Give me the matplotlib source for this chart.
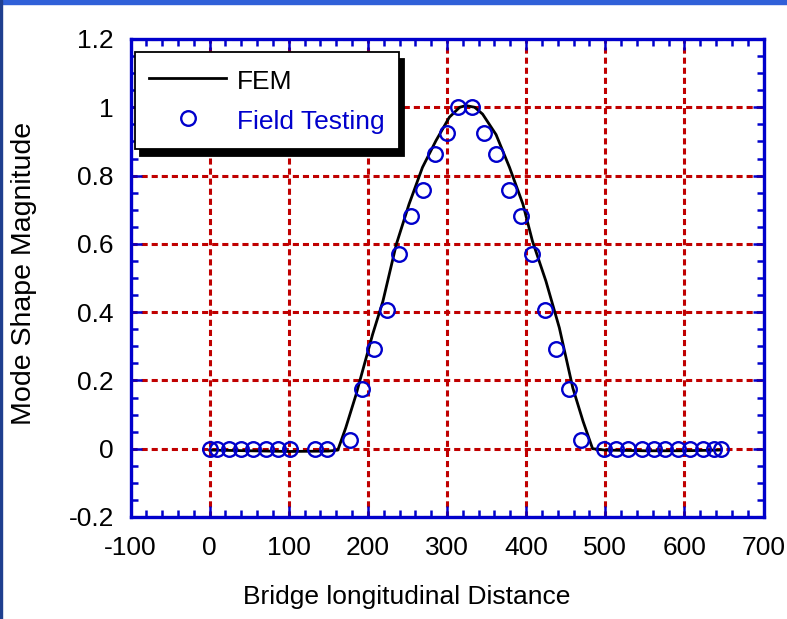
import numpy as np
import matplotlib.pyplot as plt
from matplotlib.patches import Rectangle
from matplotlib.ticker import MultipleLocator

plt.rcParams['font.family'] = ['Liberation Sans', 'DejaVu Sans']
plt.rcParams['axes.unicode_minus'] = False

# FEM mode shape
fem_x = [0, 50, 100, 150, 162, 172, 185, 206, 219, 236, 252, 269, 286, 303,
         316, 324, 335, 345, 362, 379, 396, 408, 425, 442, 459, 472, 484,
         500, 550, 600, 645]
fem_y = [-0.004, -0.006, -0.008, -0.007, -0.004, 0.061, 0.158, 0.335, 0.432,
         0.599, 0.716, 0.824, 0.902, 0.971, 1.0, 1.005, 1.0, 0.98, 0.92,
         0.824, 0.716, 0.608, 0.491, 0.354, 0.178, 0.08, 0.0, -0.004, -0.006,
         -0.006, -0.004]

# Field testing points
field_x = [0, 9, 25, 40, 55, 71, 86, 102, 133, 148,
           178, 193, 208, 224, 239, 255, 270, 285, 300, 314,
           331, 347, 362, 378, 393, 408, 424, 438, 454, 469,
           498, 513, 529, 546, 561, 576, 592, 607, 623, 638, 646]
field_y = [0, 0, 0, 0, 0, 0, 0, 0, 0, 0,
           0.026, 0.176, 0.293, 0.407, 0.569, 0.681, 0.758, 0.863, 0.924, 1.0,
           1.0, 0.924, 0.863, 0.758, 0.681, 0.569, 0.407, 0.293, 0.176, 0.026,
           -0.002, -0.002, -0.002, -0.002, -0.002, -0.002, -0.002, -0.002,
           -0.002, -0.002, -0.002]

blue = '#0000cc'
red = '#c00000'

W, H = 787, 619
fig = plt.figure(figsize=(W / 100, H / 100), dpi=100)

# slide-like frame
fig.patches.append(Rectangle((0, 1 - 4 / H), 1, 4 / H, transform=fig.transFigure,
                             color='#3060d8', zorder=0))
fig.patches.append(Rectangle((0, 0), 1.5 / W, 1, transform=fig.transFigure,
                             color='#1f3f8f', zorder=0))

left, right, top, bottom = 130.5, 763.5, 39, 517
ax = fig.add_axes([left / W, 1 - bottom / H, (right - left) / W, (bottom - top) / H])

ax.plot(fem_x, fem_y, color='black', lw=2, label='FEM', zorder=3)
ax.plot(field_x, field_y, 'o', ms=10.5, mfc='none', mec=blue, mew=1.7,
        label='Field Testing', zorder=4)

ax.set_xlim(-100, 700)
ax.set_ylim(-0.2, 1.2)
ax.xaxis.set_major_locator(MultipleLocator(100))
ax.xaxis.set_minor_locator(MultipleLocator(20))
ax.yaxis.set_minor_locator(MultipleLocator(0.05))
ax.set_yticks(np.arange(-0.2, 1.21, 0.2))
ax.set_yticklabels(['-0.2', '0', '0.2', '0.4', '0.6', '0.8', '1', '1.2'])

ax.grid(True, which='major', color=red, lw=2.2, ls=(0, (2, 1.3)))
ax.set_axisbelow(True)

ax.tick_params(which='both', direction='in', top=True, right=True,
               color=blue, width=1.8, labelsize=19, pad=12)
ax.tick_params(axis='x', pad=14)
ax.tick_params(which='major', length=8)
ax.tick_params(which='minor', length=5)
for s in ax.spines.values():
    s.set_color(blue)
    s.set_linewidth(2.4)

ax.set_xlabel('Bridge longitudinal Distance', fontsize=19)
ax.set_ylabel('Mode Shape Magnitude', fontsize=20.5)
ax.xaxis.set_label_coords(0.436, -0.142)
ax.yaxis.set_label_coords(-0.148, 0.51)

leg = ax.legend(loc='upper left', bbox_to_anchor=(0.007, 0.973), fontsize=19,
                frameon=True, fancybox=False, edgecolor='black',
                shadow={'ox': 4, 'oy': -5, 'color': 'black', 'alpha': 1},
                handlelength=2.9, handletextpad=0.4, borderpad=0.55,
                handleheight=1.25, labelspacing=0.45, borderaxespad=0)
leg.get_frame().set_linewidth(1.3)
leg.get_texts()[1].set_color(blue)

fig.savefig('out.png', dpi=100)
